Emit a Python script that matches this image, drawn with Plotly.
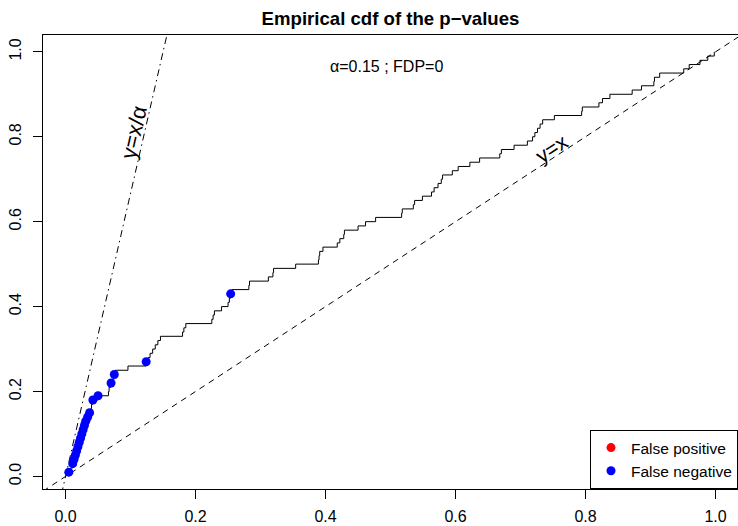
import plotly.graph_objects as go

# ---- data ----
p_values = [0.005, 0.008, 0.011, 0.013, 0.015, 0.017, 0.019, 0.021, 0.023, 0.025,
            0.027, 0.029, 0.031, 0.034, 0.037, 0.039, 0.040, 0.042, 0.050, 0.066,
            0.067, 0.070, 0.073, 0.075, 0.076, 0.096, 0.124, 0.127, 0.130, 0.134,
            0.138, 0.142, 0.146, 0.180, 0.182, 0.185, 0.225, 0.227, 0.229, 0.240,
            0.250, 0.252, 0.254, 0.256, 0.282, 0.283, 0.312, 0.319, 0.320, 0.354,
            0.389, 0.390, 0.391, 0.396, 0.418, 0.422, 0.428, 0.429, 0.450, 0.4615,
            0.477, 0.517, 0.518, 0.535, 0.537, 0.549, 0.563, 0.567, 0.573, 0.578,
            0.580, 0.595, 0.604, 0.622, 0.637, 0.668, 0.6705, 0.690, 0.7105, 0.7185,
            0.722, 0.726, 0.730, 0.734, 0.752, 0.794, 0.795, 0.8205, 0.826, 0.8374,
            0.8717, 0.886, 0.905, 0.906, 0.914, 0.951, 0.9594, 0.976, 0.988, 0.998]
false_negative_rank = [1, 3, 4, 5, 6, 7, 8, 9, 10, 11, 12, 13, 14, 15, 18, 19, 22, 24, 27, 43]
false_positive_rank = []
alpha = 0.15
fdp = 0
tick_vals = [0, 0.2, 0.4, 0.6, 0.8, 1.0]
tick_text = ["0.0", "0.2", "0.4", "0.6", "0.8", "1.0"]

n = len(p_values)
ecdf = [(i + 1) / n for i in range(n)]

x_range = [-0.0347, 1.0345]
y_range = [-0.0296, 1.0396]

FONT = "Liberation Sans, Arial, Helvetica, sans-serif"

fig = go.Figure()

# reference lines
fig.add_trace(go.Scatter(x=x_range, y=[v / alpha for v in x_range], mode="lines",
                         line=dict(color="black", width=1, dash="7px,4px,1.5px,4px"),
                         showlegend=False, hoverinfo="skip"))
fig.add_trace(go.Scatter(x=x_range, y=x_range, mode="lines",
                         line=dict(color="black", width=1, dash="6px,5px"),
                         showlegend=False, hoverinfo="skip"))

# empirical cdf
fig.add_trace(go.Scatter(x=p_values, y=ecdf, mode="lines", line_shape="hv",
                         line=dict(color="black", width=1),
                         showlegend=False, hoverinfo="skip"))

fp_x = [p_values[r - 1] for r in false_positive_rank] or [None]
fp_y = [ecdf[r - 1] for r in false_positive_rank] or [None]
fig.add_trace(go.Scatter(x=fp_x, y=fp_y, mode="markers", name="False positive",
                         marker=dict(color="red", size=9)))
fig.add_trace(go.Scatter(x=[p_values[r - 1] for r in false_negative_rank],
                         y=[ecdf[r - 1] for r in false_negative_rank],
                         mode="markers", name="False negative",
                         marker=dict(color="blue", size=9)))

fig.add_annotation(x=0.494, y=0.965, xref="x", yref="y", text="α=0.15 ; FDP=0",
                   showarrow=False, font=dict(family=FONT, size=16, color="black"))
fig.add_annotation(x=0.105, y=0.81, xref="x", yref="y", text="y=x/α",
                   textangle=-77.1, showarrow=False,
                   font=dict(family=FONT, size=22, color="black"))
fig.add_annotation(x=0.748, y=0.772, xref="x", yref="y", text="y=x",
                   textangle=-33.2, showarrow=False,
                   font=dict(family=FONT, size=21, color="black"))

axis_common = dict(tickvals=tick_vals, ticktext=tick_text, ticks="outside",
                   ticklen=9, tickwidth=1, tickcolor="black", showgrid=False,
                   zeroline=False, showline=True, linecolor="black", linewidth=1,
                   tickfont=dict(family=FONT, size=16, color="black"))

fig.update_xaxes(range=x_range, mirror=True, ticklabelstandoff=4, **axis_common)
fig.update_yaxes(range=y_range, mirror=False, tickangle=-90, ticklabelstandoff=6,
                 **axis_common)

fig.update_layout(
    width=738, height=526, autosize=False,
    margin=dict(l=43, r=0, t=35, b=37),
    paper_bgcolor="white", plot_bgcolor="white",
    font=dict(family=FONT, color="black"),
    title=dict(text="<b>Empirical cdf of the p−values</b>", x=0.5, xref="paper",
               y=1 - 18 / 526, yref="container", yanchor="middle", xanchor="center",
               font=dict(family=FONT, size=18.6, color="black")),
    legend=dict(x=1, y=0, xanchor="right", yanchor="bottom", bgcolor="white",
                bordercolor="black", borderwidth=1,
                font=dict(family=FONT, size=15.5, color="black")),
)

fig.write_html("out.html")
